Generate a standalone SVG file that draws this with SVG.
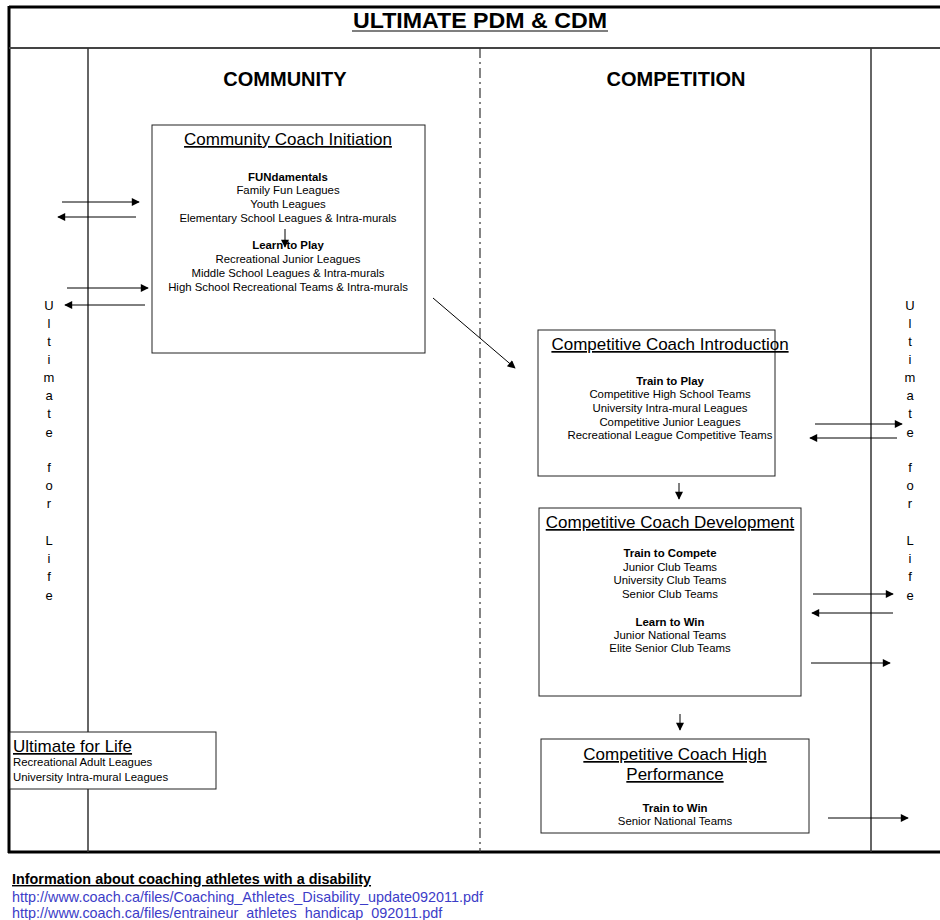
<svg xmlns="http://www.w3.org/2000/svg" width="940" height="920" viewBox="0 0 940 920">
<style>
text{font-family:"Liberation Sans",Arial,sans-serif;fill:#000}
.t{font-size:11.4px;text-anchor:middle}
.b{font-weight:bold}
.h{font-size:17px;text-anchor:middle;text-decoration:underline}
.v{font-size:13px;text-anchor:middle}
.box{fill:#fff;stroke:#222;stroke-width:1}
.c{stroke:#000;stroke-width:1;fill:none;marker-end:url(#ah)}
.link{font-size:14.4px;fill:#3c3cc8}
</style>
<defs>
<marker id="ah" viewBox="0 0 10 10" refX="9" refY="5" markerWidth="10" markerHeight="8" markerUnits="userSpaceOnUse" orient="auto">
<path d="M0,0 L10,5 L0,10 z" fill="#000"/>
</marker>
</defs>
<rect width="940" height="920" fill="#fff"/>
<g id="frame">
<line x1="9" y1="7" x2="940" y2="7" stroke="#000" stroke-width="3"/>
<line x1="9" y1="6" x2="9" y2="853" stroke="#000" stroke-width="3"/>
<line x1="8" y1="852" x2="940" y2="852" stroke="#000" stroke-width="3"/>
<line x1="9" y1="48" x2="940" y2="48" stroke="#444" stroke-width="2"/>
<line x1="88" y1="48" x2="88" y2="852" stroke="#333" stroke-width="1.5"/>
<line x1="871" y1="48" x2="871" y2="852" stroke="#333" stroke-width="1.5"/>
<line x1="480" y1="48" x2="480" y2="852" stroke="#333" stroke-width="1.2" stroke-dasharray="10 4 2 4"/>
</g>
<g id="title">
<text x="480" y="28" font-size="22" font-weight="bold" text-anchor="middle" textLength="254" lengthAdjust="spacingAndGlyphs">ULTIMATE PDM &amp; CDM</text>
<line x1="352" y1="31" x2="608" y2="31" stroke="#555" stroke-width="1.5"/>
<text x="285" y="86" font-size="20" font-weight="bold" text-anchor="middle">COMMUNITY</text>
<text x="676" y="86" font-size="20" font-weight="bold" text-anchor="middle">COMPETITION</text>
</g>
<g id="ufl-left">
<text class="v" x="49" y="310">U</text><text class="v" x="49" y="328">l</text><text class="v" x="49" y="346">t</text><text class="v" x="49" y="364">i</text><text class="v" x="49" y="382">m</text><text class="v" x="49" y="400">a</text><text class="v" x="49" y="418">t</text><text class="v" x="49" y="437">e</text>
<text class="v" x="49" y="472">f</text><text class="v" x="49" y="490">o</text><text class="v" x="49" y="508">r</text>
<text class="v" x="49" y="545">L</text><text class="v" x="49" y="563">i</text><text class="v" x="49" y="581">f</text><text class="v" x="49" y="600">e</text>
</g>
<g id="ufl-right">
<text class="v" x="910" y="310">U</text><text class="v" x="910" y="328">l</text><text class="v" x="910" y="346">t</text><text class="v" x="910" y="364">i</text><text class="v" x="910" y="382">m</text><text class="v" x="910" y="400">a</text><text class="v" x="910" y="418">t</text><text class="v" x="910" y="437">e</text>
<text class="v" x="910" y="472">f</text><text class="v" x="910" y="490">o</text><text class="v" x="910" y="508">r</text>
<text class="v" x="910" y="545">L</text><text class="v" x="910" y="563">i</text><text class="v" x="910" y="581">f</text><text class="v" x="910" y="600">e</text>
</g>
<g id="initiation">
<rect class="box" x="152" y="125" width="273" height="228"/>
<text class="h" x="288" y="145">Community Coach Initiation</text>
<text class="t b" x="288" y="181">FUNdamentals</text>
<text class="t" x="288" y="194">Family Fun Leagues</text>
<text class="t" x="288" y="208">Youth Leagues</text>
<text class="t" x="288" y="222">Elementary School Leagues &amp; Intra-murals</text>
<text class="t b" x="288" y="249">Learn to Play</text>
<text class="t" x="288" y="263">Recreational Junior Leagues</text>
<text class="t" x="288" y="277">Middle School Leagues &amp; Intra-murals</text>
<text class="t" x="288" y="291">High School Recreational Teams &amp; Intra-murals</text>
</g>
<g id="introduction">
<rect class="box" x="538" y="330" width="237" height="146"/>
<text class="h" x="670" y="350">Competitive Coach Introduction</text>
<text class="t b" x="670" y="385">Train to Play</text>
<text class="t" x="670" y="398">Competitive High School Teams</text>
<text class="t" x="670" y="412">University Intra-mural Leagues</text>
<text class="t" x="670" y="426">Competitive Junior Leagues</text>
<text class="t" x="670" y="439">Recreational League Competitive Teams</text>
</g>
<g id="development">
<rect class="box" x="539" y="508" width="262" height="188"/>
<text class="h" x="670" y="528">Competitive Coach Development</text>
<text class="t b" x="670" y="557">Train to Compete</text>
<text class="t" x="670" y="571">Junior Club Teams</text>
<text class="t" x="670" y="584">University Club Teams</text>
<text class="t" x="670" y="598">Senior Club Teams</text>
<text class="t b" x="670" y="626">Learn to Win</text>
<text class="t" x="670" y="639">Junior National Teams</text>
<text class="t" x="670" y="652">Elite Senior Club Teams</text>
</g>
<g id="high-performance">
<rect class="box" x="541" y="739" width="268" height="94"/>
<text class="h" x="675" y="760">Competitive Coach High</text>
<text class="h" x="675" y="780">Performance</text>
<text class="t b" x="675" y="812">Train to Win</text>
<text class="t" x="675" y="825">Senior National Teams</text>
</g>
<g id="ultimate-for-life">
<rect class="box" x="10" y="732" width="206" height="57"/>
<text x="13" y="752" font-size="17" text-decoration="underline">Ultimate for Life</text>
<text x="13" y="766" font-size="11.4">Recreational Adult Leagues</text>
<text x="13" y="781" font-size="11.4">University Intra-mural Leagues</text>
</g>
<g id="connectors">
<line class="c" x1="62" y1="202" x2="139" y2="202"/>
<line class="c" x1="136" y1="217" x2="58" y2="217"/>
<line class="c" x1="67" y1="288" x2="148" y2="288"/>
<line class="c" x1="145" y1="305" x2="65" y2="305"/>
<line class="c" x1="285" y1="229" x2="285" y2="247"/>
<line class="c" x1="433" y1="298" x2="515" y2="368"/>
<line class="c" x1="815" y1="424" x2="902" y2="424"/>
<line class="c" x1="897" y1="438" x2="810" y2="438"/>
<line class="c" x1="679" y1="483" x2="679" y2="499"/>
<line class="c" x1="813" y1="594" x2="893" y2="594"/>
<line class="c" x1="893" y1="613" x2="812" y2="613"/>
<line class="c" x1="811" y1="663" x2="890" y2="663"/>
<line class="c" x1="680" y1="714" x2="680" y2="730"/>
<line class="c" x1="828" y1="818" x2="908" y2="818"/>
</g>
<g id="footer">
<text x="12" y="884" font-size="14.4" font-weight="bold" text-decoration="underline">Information about coaching athletes with a disability</text>
<text class="link" x="12" y="902">http://www.coach.ca/files/Coaching_Athletes_Disability_update092011.pdf</text>
<text class="link" x="12" y="918">http://www.coach.ca/files/entraineur_athletes_handicap_092011.pdf</text>
</g>
</svg>
